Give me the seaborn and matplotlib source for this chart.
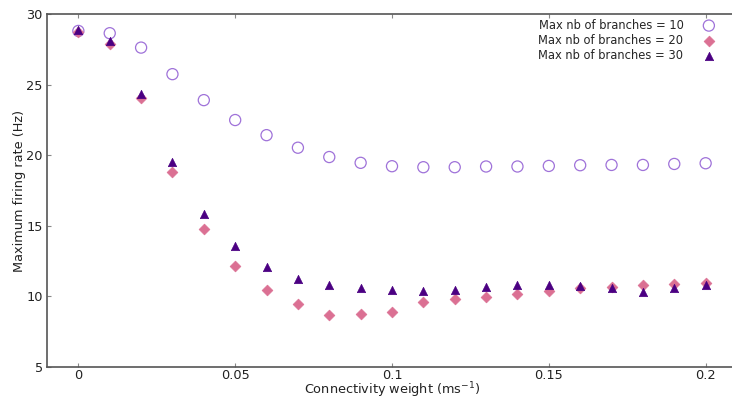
import numpy as np
import pandas as pd
import seaborn as sns
import matplotlib
matplotlib.use('Agg')
import matplotlib.pyplot as plt

# connectivity weight (ms^-1)
weights = [0.0, 0.01, 0.02, 0.03, 0.04, 0.05, 0.06, 0.07, 0.08, 0.09, 0.10,
           0.11, 0.12, 0.13, 0.14, 0.15, 0.16, 0.17, 0.18, 0.19, 0.20]

# maximum firing rate (Hz) for each max nb of branches
rate_10 = [28.8, 28.64, 27.62, 25.74, 23.9, 22.49, 21.42, 20.53, 19.87, 19.46, 19.22,
           19.15, 19.15, 19.2, 19.2, 19.24, 19.29, 19.31, 19.31, 19.38, 19.43]
rate_20 = [28.75, 27.9, 24.05, 18.8, 14.75, 12.15, 10.44, 9.47, 8.69, 8.76, 8.93,
           9.61, 9.8, 9.97, 10.2, 10.39, 10.58, 10.67, 10.81, 10.91, 10.93]
rate_30 = [28.87, 28.1, 24.33, 19.5, 15.85, 13.55, 12.08, 11.21, 10.81, 10.6, 10.46,
           10.37, 10.46, 10.7, 10.84, 10.84, 10.74, 10.56, 10.28, 10.6, 10.81]

labels = ['Max nb of branches = 10', 'Max nb of branches = 20', 'Max nb of branches = 30']

df = pd.DataFrame({'w': weights, 'r10': rate_10, 'r20': rate_20, 'r30': rate_30})

sns.set_style('ticks')
plt.rcParams['font.family'] = ['DejaVu Sans']

fig = plt.figure(figsize=(7.32, 4.0), dpi=100)
# the right edge of the axes runs past the picture (cropped in the reference)
ax = fig.add_axes([47 / 732, 33 / 400, 690 / 732, 353 / 400])

sns.scatterplot(data=df, x='w', y='r10', marker='o', s=64, facecolor='none',
                edgecolor='#9f72d9', linewidth=0.9, label=labels[0], ax=ax)
sns.scatterplot(data=df, x='w', y='r20', marker='D', s=30, color='palevioletred',
                edgecolor='palevioletred', linewidth=0.5, label=labels[1], ax=ax)
sns.scatterplot(data=df, x='w', y='r30', marker='^', s=36, color='indigo',
                edgecolor='indigo', linewidth=0.5, label=labels[2], ax=ax)

ax.set_xlim(-0.01, 0.21)
ax.set_ylim(5, 30)
ax.set_xticks([0, 0.05, 0.1, 0.15, 0.2])
ax.set_xticklabels(['0', '0.05', '0.1', '0.15', '0.2'])
ax.set_yticks([5, 10, 15, 20, 25, 30])
ax.tick_params(direction='in', length=3, width=0.8, color='#888888', top=True,
               right=False, labelsize=9.3, labelcolor='#222222')
ax.tick_params(axis='x', pad=1.5)
ax.tick_params(axis='y', pad=3)
for sp in ax.spines.values():
    sp.set_visible(True)
    sp.set_color('#555555')
    sp.set_linewidth(1.2)

ax.set_xlabel('Connectivity weight (ms$^{-1}$)', fontsize=9.3, labelpad=-1, color='#222222')
ax.set_ylabel('Maximum firing rate (Hz)', fontsize=9.3, labelpad=0, color='#222222')

ax.legend(loc='upper right', bbox_to_anchor=(725 / 732, 1 - 14 / 400),
          bbox_transform=fig.transFigure, frameon=False, markerfirst=False,
          labelspacing=0.17, handletextpad=1.2, borderaxespad=0, fontsize=8.3)

fig.savefig('out.png', dpi=100)
